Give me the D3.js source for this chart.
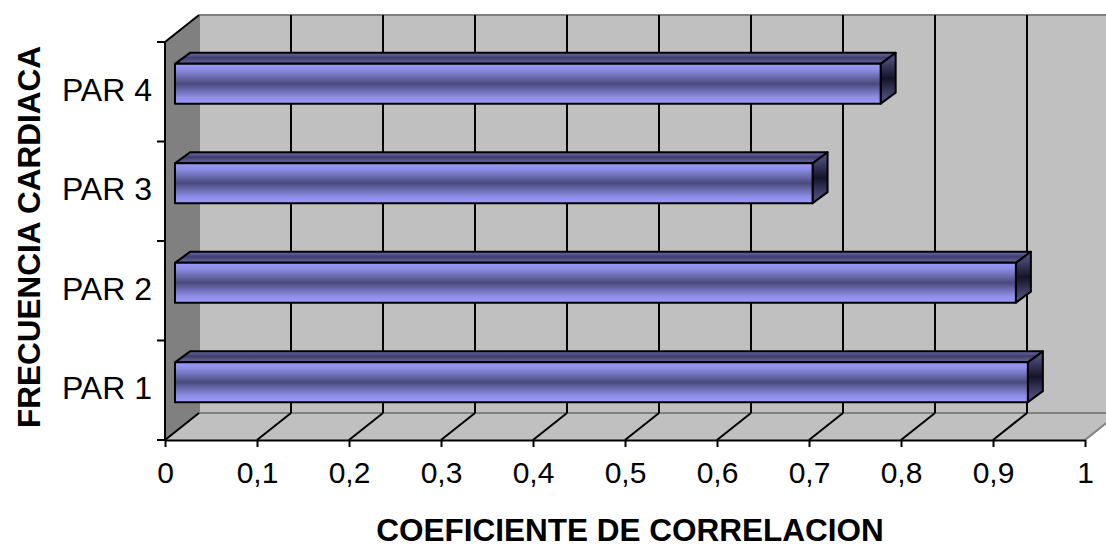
<!DOCTYPE html>
<html>
<head>
<meta charset="utf-8">
<script src="https://cdn.jsdelivr.net/npm/d3@7"></script>
<style>
  html, body { margin: 0; padding: 0; background: #ffffff; }
  svg { display: block; }
  text { font-family: "Liberation Sans", Arial, sans-serif; fill: #000; }
</style>
</head>
<body>
<svg id="chart" width="1106" height="550"></svg>
<script>
// Correlation coefficients per pair (heart rate)
const categories = ["PAR 1", "PAR 2", "PAR 3", "PAR 4"];
const values = [0.927, 0.914, 0.693, 0.767];
const xTicks = [0, 0.1, 0.2, 0.3, 0.4, 0.5, 0.6, 0.7, 0.8, 0.9, 1];
const xTitle = "COEFICIENTE DE CORRELACION";
const yTitle = "FRECUENCIA CARDIACA";

const svg = d3.select("#chart");

// Front plane of the 3D box
const plotL = 165, plotR = 1085, plotT = 42, plotB = 440;
// Depth offset of the back wall
const depth = { dx: 34, dy: -27 };
// Bar front face sits partway into the depth; bar depth offset
const barFront = { dx: 10, dy: -8 };
const barDepth = { dx: 15, dy: -11 };

const x = d3.scaleLinear().domain([0, 1]).range([plotL, plotR]);
const y = d3.scaleBand().domain(categories.slice().reverse()).range([plotT, plotB]);

const fmt = d3.formatLocale({ decimal: ",", thousands: ".", grouping: [3], currency: ["", ""] }).format(".1~f");

const defs = svg.append("defs");
function grad(id, stops) {
  const g = defs.append("linearGradient").attr("id", id)
    .attr("x1", 0).attr("y1", 0).attr("x2", 0).attr("y2", 1);
  stops.forEach(([o, c]) => g.append("stop").attr("offset", o).attr("stop-color", c));
}
grad("gFront", [[0, "#9a9afa"], [0.14, "#8e8ee8"], [0.5, "#4a4a7c"], [0.84, "#8e8ee8"], [1, "#9a9afa"]]);
grad("gTop", [[0, "#6c6cae"], [0.45, "#3e3e68"], [0.8, "#5c5c94"], [1, "#44446e"]]);
grad("gSide", [[0, "#5c5c94"], [0.5, "#141428"], [1, "#5c5c94"]]);

const line = d3.line();

// Back wall
svg.append("rect")
  .attr("x", plotL + depth.dx).attr("y", plotT + depth.dy)
  .attr("width", plotR - plotL).attr("height", plotB - plotT)
  .attr("fill", "#c0c0c0");

// Side wall
svg.append("path")
  .attr("d", line([[plotL, plotT], [plotL + depth.dx, plotT + depth.dy], [plotL + depth.dx, plotB + depth.dy], [plotL, plotB]]) + "Z")
  .attr("fill", "#808080");

// Floor
svg.append("path")
  .attr("d", line([[plotL, plotB], [plotL + depth.dx, plotB + depth.dy], [plotR + depth.dx, plotB + depth.dy], [plotR, plotB]]) + "Z")
  .attr("fill", "#c0c0c0");

// Wall edges
const edges = svg.append("g").attr("fill", "none").attr("stroke", "#808080").attr("stroke-width", 2);
edges.append("path").attr("d", line([[plotL + depth.dx, plotT + depth.dy], [plotR + depth.dx, plotT + depth.dy]]));
edges.append("path").attr("d", line([[plotL + depth.dx, plotT + depth.dy], [plotL + depth.dx, plotB + depth.dy]]));
edges.append("path").attr("d", line([[plotL + depth.dx, plotB + depth.dy], [plotR + depth.dx, plotB + depth.dy]]));
edges.append("path").attr("d", line([[plotR, plotB], [plotR + depth.dx, plotB + depth.dy]]));

// Gridlines on the back wall and floor
const grid = svg.append("g").attr("fill", "none").attr("stroke", "#000").attr("stroke-width", 2);
xTicks.forEach(t => {
  const px = x(t);
  if (t > 0 && t < 1) {
    grid.append("path").attr("d", line([[px + depth.dx, plotT + depth.dy], [px + depth.dx, plotB + depth.dy]]));
  }
  if (t < 1) {
    grid.append("path").attr("d", line([[px, plotB], [px + depth.dx, plotB + depth.dy]]));
  }
});
// Top edge of the side wall
grid.append("path").attr("d", line([[plotL, plotT], [plotL + depth.dx, plotT + depth.dy]]));

// Bars
const barH = y.bandwidth() * 0.4;
const bars = svg.append("g").attr("stroke", "#000").attr("stroke-width", 2).attr("stroke-linejoin", "round");
categories.forEach((c, i) => {
  const v = values[i];
  const x0 = x(0) + barFront.dx, x1 = x(v) + barFront.dx;
  const yc = y(c) + y.bandwidth() / 2 + barFront.dy;
  const yT = yc - barH / 2, yB = yc + barH / 2;
  const g = bars.append("g");
  g.append("path")
    .attr("d", line([[x0, yT], [x0 + barDepth.dx, yT + barDepth.dy], [x1 + barDepth.dx, yT + barDepth.dy], [x1, yT]]) + "Z")
    .attr("fill", "url(#gTop)");
  g.append("path")
    .attr("d", line([[x1, yT], [x1 + barDepth.dx, yT + barDepth.dy], [x1 + barDepth.dx, yB + barDepth.dy], [x1, yB]]) + "Z")
    .attr("fill", "url(#gSide)");
  g.append("rect")
    .attr("x", x0).attr("y", yT).attr("width", x1 - x0).attr("height", barH)
    .attr("fill", "url(#gFront)");
});

// Value axis (bottom)
const xAxis = svg.append("g")
  .attr("transform", `translate(0,${plotB})`)
  .call(d3.axisBottom(x).tickValues(xTicks).tickFormat(fmt).tickSize(7).tickPadding(15).tickSizeOuter(0));
xAxis.select(".domain").attr("stroke", "#000").attr("stroke-width", 2);
xAxis.selectAll(".tick line").attr("stroke", "#000").attr("stroke-width", 2);
xAxis.selectAll(".tick text").attr("font-size", 30).attr("font-family", "Liberation Sans, Arial, sans-serif").attr("fill", "#000");

// Category axis (left)
const yAxisG = svg.append("g").attr("stroke", "#000").attr("stroke-width", 2);
yAxisG.append("path").attr("d", line([[plotL, plotT], [plotL, plotB]]));
const bounds = y.domain().map(d => y(d)).concat([plotB]);
bounds.forEach(b => yAxisG.append("path").attr("d", line([[plotL - 8, b], [plotL, b]])));

svg.append("g").selectAll("text").data(categories).join("text")
  .attr("x", 152)
  .attr("y", d => y(d) + y.bandwidth() / 2 + 9)
  .attr("text-anchor", "end")
  .attr("font-size", 32)
  .text(d => d);

// Axis titles
svg.append("text")
  .attr("x", 630).attr("y", 541)
  .attr("text-anchor", "middle")
  .attr("font-size", 31.5).attr("font-weight", "bold")
  .text(xTitle);

svg.append("text")
  .attr("transform", `translate(40,237) rotate(-90)`)
  .attr("text-anchor", "middle")
  .attr("font-size", 31.5).attr("font-weight", "bold")
  .text(yTitle);
</script>
</body>
</html>
